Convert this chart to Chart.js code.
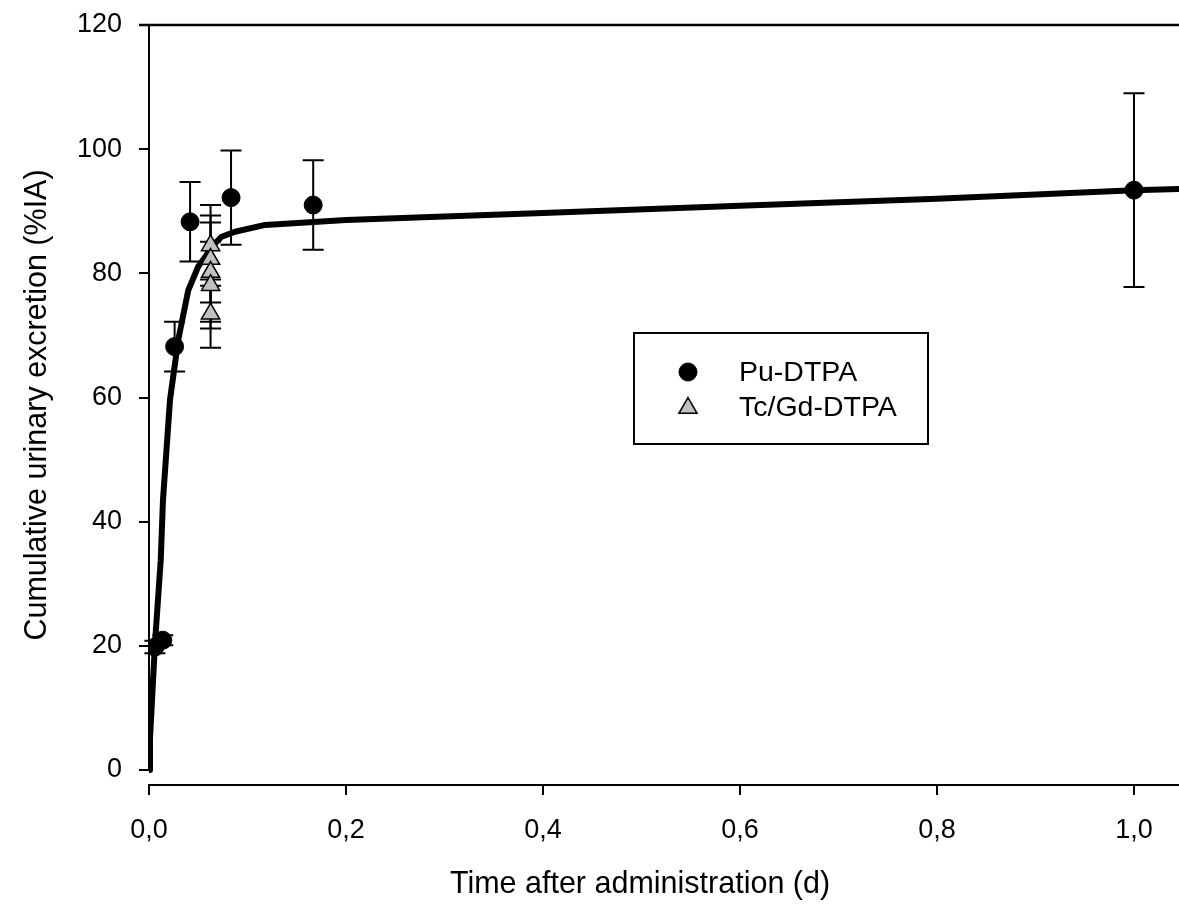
<!DOCTYPE html>
<html>
<head>
<meta charset="utf-8">
<script src="https://cdn.jsdelivr.net/npm/chart.js@4/dist/chart.umd.min.js"></script>
<style>
html,body{margin:0;padding:0;background:#fff;}
#wrap{width:1179px;height:908px;position:relative;}
</style>
</head>
<body>
<div id="wrap"><canvas id="c" width="1179" height="908"></canvas></div>
<script>
// ---- data ----
const puX   = [0.006, 0.014, 0.026, 0.0417, 0.0833, 0.1667, 1.0];
const puY   = [19.8, 20.9, 68.2, 88.3, 92.2, 91.0, 93.4];
const puErr = [1.0, 0.8, 4.0, 6.4, 7.6, 7.2, 15.6];

const tcX   = [0.0625, 0.0625, 0.0625, 0.0625, 0.0625];
const tcY   = [84.5, 82.3, 80.2, 78.1, 73.5];
const tcErr = [6.5, 7.0, 8.0, 7.0, 5.5];

const fitX = [0, 0.001, 0.0061, 0.0119, 0.0142, 0.0213, 0.0297, 0.0399, 0.050, 0.0586, 0.0637, 0.0738, 0.0873, 0.118, 0.2, 0.4, 0.6, 0.8, 1.0, 1.05];
const fitY = [0, 5, 20.5, 33.8, 43.5, 59.6, 69.3, 77.3, 81.1, 83.0, 84.3, 85.9, 86.7, 87.8, 88.6, 89.7, 90.9, 92.0, 93.4, 93.6];

const xTicks = [0, 0.2, 0.4, 0.6, 0.8, 1.0];
const yTicks = [0, 20, 40, 60, 80, 100, 120];

const seriesLabels = ['Pu-DTPA', 'Tc/Gd-DTPA'];
const xTitle = 'Time after administration (d)';
const yTitle = 'Cumulative urinary excretion (%IA)';

const FONT = 'Arial, "Liberation Sans", sans-serif';

const toPts = (xs, ys) => xs.map((x, i) => ({x: x, y: ys[i]}));

const errorBars = {
  id: 'errorBars',
  beforeDatasetsDraw(chart) {
    const ctx = chart.ctx, xs = chart.scales.x, ys = chart.scales.y;
    ctx.save();
    ctx.strokeStyle = '#000';
    ctx.lineWidth = 2;
    const draw = (X, Y, E) => {
      X.forEach((xv, i) => {
        const px = xs.getPixelForValue(xv);
        const top = ys.getPixelForValue(Y[i] + E[i]);
        const bot = ys.getPixelForValue(Y[i] - E[i]);
        ctx.beginPath();
        ctx.moveTo(px, top); ctx.lineTo(px, bot);
        ctx.moveTo(px - 10.5, top); ctx.lineTo(px + 10.5, top);
        ctx.moveTo(px - 10.5, bot); ctx.lineTo(px + 10.5, bot);
        ctx.stroke();
      });
    };
    draw(puX, puY, puErr);
    draw(tcX, tcY, tcErr);
    ctx.restore();
  }
};

const frame = {
  id: 'frame',
  afterDraw(chart) {
    const ctx = chart.ctx, ys = chart.scales.y, a = chart.chartArea;
    ctx.save();
    ctx.strokeStyle = '#000';
    ctx.lineWidth = 2;
    ctx.beginPath();
    ctx.moveTo(a.left, ys.getPixelForValue(0));
    ctx.lineTo(a.left, ys.getPixelForValue(120));
    ctx.stroke();
    ctx.lineWidth = 2.5;
    ctx.beginPath();
    ctx.moveTo(a.left - 10, ys.getPixelForValue(120));
    ctx.lineTo(chart.width, ys.getPixelForValue(120));
    ctx.stroke();
    // x axis title (centred as in the original, whose axis continues past the crop)
    ctx.fillStyle = '#000';
    ctx.font = '30.5px ' + FONT;
    ctx.textAlign = 'center';
    ctx.textBaseline = 'middle';
    ctx.fillText(xTitle, 640, 885);
    // legend box
    const bx = 634, by = 333, bw = 294, bh = 111;
    ctx.lineWidth = 2;
    ctx.strokeRect(bx, by, bw, bh);
    const sets = [chart.data.datasets[0], chart.data.datasets[1]];
    const rowsY = [372, 407];
    sets.forEach((ds, i) => {
      ctx.fillStyle = ds.backgroundColor;
      ctx.strokeStyle = '#000';
      ctx.lineWidth = ds.borderWidth;
      Chart.helpers.drawPoint(ctx, {pointStyle: ds.pointStyle, radius: ds.pointRadius, rotation: 0, borderWidth: ds.borderWidth}, 688, rowsY[i] + (i === 1 ? 1 : 0));
      ctx.fillStyle = '#000';
      ctx.font = '28.5px ' + FONT;
      ctx.textBaseline = 'middle';
      ctx.textAlign = 'left';
      ctx.fillText(ds.label, 739, rowsY[i] + 1);
    });
    ctx.restore();
  }
};

new Chart(document.getElementById('c'), {
  type: 'scatter',
  data: {
    datasets: [
      {label: seriesLabels[0], data: toPts(puX, puY), pointStyle: 'circle', pointRadius: 9,
       backgroundColor: '#000', borderColor: '#000', borderWidth: 1, order: 1},
      {label: seriesLabels[1], data: toPts(tcX, tcY), pointStyle: 'triangle', pointRadius: 10.5,
       backgroundColor: '#c0c0c0', borderColor: '#000', borderWidth: 1.5, order: 2},
      {label: 'fit', type: 'line', data: toPts(fitX, fitY), showLine: true, borderColor: '#000',
       borderWidth: 6, pointRadius: 0, tension: 0, fill: false, order: 3, borderJoinStyle: 'round'}
    ]
  },
  options: {
    responsive: false,
    animation: false,
    devicePixelRatio: 1,
    layout: {autoPadding: false, padding: {top: 25, right: 0, bottom: 0, left: 0}},
    plugins: {legend: {display: false}, tooltip: {enabled: false}},
    scales: {
      x: {
        type: 'linear', min: 0, max: 1.0457,
        afterBuildTicks: s => { s.ticks = xTicks.map(v => ({value: v})); },
        afterFit: s => { s.height = 123; s.paddingLeft = 0; s.paddingRight = 0; },
        grid: {drawOnChartArea: false, drawTicks: true, tickLength: 10, color: '#000', lineWidth: 2},
        border: {display: true, color: '#000', width: 2},
        ticks: {color: '#000', font: {size: 27, family: FONT}, padding: 19,
                callback: v => v.toFixed(1).replace('.', ','), maxRotation: 0, autoSkip: false},
        title: {display: false, text: xTitle}
      },
      y: {
        type: 'linear', min: -2.416, max: 120,
        afterBuildTicks: s => { s.ticks = yTicks.map(v => ({value: v})); },
        afterFit: s => { s.width = 149; s.paddingTop = 0; s.paddingBottom = 0; },
        grid: {drawOnChartArea: false, drawTicks: true, tickLength: 10, color: '#000', lineWidth: 2},
        border: {display: false},
        ticks: {color: '#000', font: {size: 27, family: FONT}, padding: 17, autoSkip: false},
        title: {display: true, text: yTitle, color: '#000', font: {size: 30.5, family: FONT}, padding: {top: 19, bottom: 0}}
      }
    }
  },
  plugins: [errorBars, frame]
});
</script>
</body>
</html>
